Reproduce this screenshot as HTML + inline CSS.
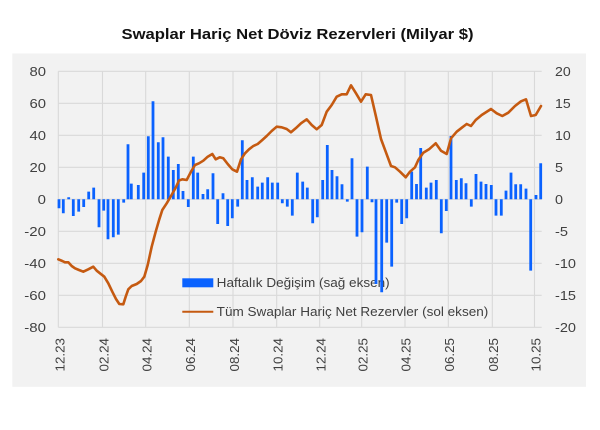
<!DOCTYPE html>
<html>
<head>
<meta charset="utf-8">
<style>
html,body{margin:0;padding:0;background:#ffffff;}
body{width:600px;height:430px;overflow:hidden;}
svg{display:block;}
text{font-family:"Liberation Sans",sans-serif;}
</style>
</head>
<body>
<svg width="600" height="430" viewBox="0 0 600 430" xmlns="http://www.w3.org/2000/svg">
  <rect x="0" y="0" width="600" height="430" fill="#ffffff"/>
  <!-- title -->
  <text x="297.5" y="39" text-anchor="middle" font-size="14.5" font-weight="bold" fill="#111111" textLength="352" lengthAdjust="spacingAndGlyphs">Swaplar Hariç Net Döviz Rezervleri  (Milyar $)</text>
  <!-- chart panel -->
  <rect x="12.3" y="53.5" width="573.7" height="333.3" fill="#f2f2f2"/>

  <!-- horizontal gridlines -->
  <g stroke="#d9d9d9" stroke-width="1.1" fill="none">
    <path d="M58.3 71.3H541.7M58.3 103.3H541.7M58.3 135.3H541.7M58.3 167.3H541.7M58.3 199.3H541.7M58.3 231.3H541.7M58.3 263.3H541.7M58.3 295.3H541.7M58.3 327.3H541.7"/>
    <path d="M58.3 71.3V327.3M102.5 71.3V327.3M145.7 71.3V327.3M189.3 71.3V327.3M233 71.3V327.3M276.7 71.3V327.3M319.7 71.3V327.3M361.7 71.3V327.3M405 71.3V327.3M448.3 71.3V327.3M492.3 71.3V327.3M534.5 71.3V327.3"/>
  </g>

  <!-- left axis labels -->
  <g font-size="12.5" fill="#404040" text-anchor="end">
    <text x="46" y="75.8" textLength="16.5" lengthAdjust="spacingAndGlyphs">80</text>
    <text x="46" y="107.8" textLength="16.5" lengthAdjust="spacingAndGlyphs">60</text>
    <text x="46" y="139.8" textLength="16.5" lengthAdjust="spacingAndGlyphs">40</text>
    <text x="46" y="171.8" textLength="16.5" lengthAdjust="spacingAndGlyphs">20</text>
    <text x="46" y="203.8" textLength="8.3" lengthAdjust="spacingAndGlyphs">0</text>
    <text x="46" y="235.8" textLength="21.7" lengthAdjust="spacingAndGlyphs">-20</text>
    <text x="46" y="267.8" textLength="21.7" lengthAdjust="spacingAndGlyphs">-40</text>
    <text x="46" y="299.8" textLength="21.7" lengthAdjust="spacingAndGlyphs">-60</text>
    <text x="46" y="331.8" textLength="21.7" lengthAdjust="spacingAndGlyphs">-80</text>
  </g>
  <!-- right axis labels -->
  <g font-size="12.5" fill="#404040" text-anchor="start">
    <text x="555" y="75.8" textLength="15.7" lengthAdjust="spacingAndGlyphs">20</text>
    <text x="555" y="107.8" textLength="15.7" lengthAdjust="spacingAndGlyphs">15</text>
    <text x="555" y="139.8" textLength="15.7" lengthAdjust="spacingAndGlyphs">10</text>
    <text x="555" y="171.8" textLength="8" lengthAdjust="spacingAndGlyphs">5</text>
    <text x="555" y="203.8" textLength="8" lengthAdjust="spacingAndGlyphs">0</text>
    <text x="555" y="235.8" textLength="13" lengthAdjust="spacingAndGlyphs">-5</text>
    <text x="555" y="267.8" textLength="21" lengthAdjust="spacingAndGlyphs">-10</text>
    <text x="555" y="299.8" textLength="21" lengthAdjust="spacingAndGlyphs">-15</text>
    <text x="555" y="331.8" textLength="21" lengthAdjust="spacingAndGlyphs">-20</text>
  </g>
  <!-- x axis labels -->
  <g font-size="12.5" fill="#404040" text-anchor="end">
    <text transform="translate(64.3,338) rotate(-90)" textLength="33.5" lengthAdjust="spacingAndGlyphs">12.23</text>
    <text transform="translate(108.3,338) rotate(-90)" textLength="33.5" lengthAdjust="spacingAndGlyphs">02.24</text>
    <text transform="translate(151.5,338) rotate(-90)" textLength="33.5" lengthAdjust="spacingAndGlyphs">04.24</text>
    <text transform="translate(195.1,338) rotate(-90)" textLength="33.5" lengthAdjust="spacingAndGlyphs">06.24</text>
    <text transform="translate(238.8,338) rotate(-90)" textLength="33.5" lengthAdjust="spacingAndGlyphs">08.24</text>
    <text transform="translate(282.5,338) rotate(-90)" textLength="33.5" lengthAdjust="spacingAndGlyphs">10.24</text>
    <text transform="translate(325.5,338) rotate(-90)" textLength="33.5" lengthAdjust="spacingAndGlyphs">12.24</text>
    <text transform="translate(367.5,338) rotate(-90)" textLength="33.5" lengthAdjust="spacingAndGlyphs">02.25</text>
    <text transform="translate(410.5,338) rotate(-90)" textLength="33.5" lengthAdjust="spacingAndGlyphs">04.25</text>
    <text transform="translate(453.8,338) rotate(-90)" textLength="33.5" lengthAdjust="spacingAndGlyphs">06.25</text>
    <text transform="translate(497.8,338) rotate(-90)" textLength="33.5" lengthAdjust="spacingAndGlyphs">08.25</text>
    <text transform="translate(540.3,338) rotate(-90)" textLength="33.5" lengthAdjust="spacingAndGlyphs">10.25</text>
  </g>

  <!-- legend -->
  <rect x="182.3" y="278.3" width="31" height="9" fill="#0a62ff"/>
  <text x="216.7" y="286.8" font-size="12.5" fill="#404040" textLength="173" lengthAdjust="spacingAndGlyphs">Haftalık Değişim (sağ eksen)</text>
  <path d="M182.3 311.7H213.3" stroke="#c55a11" stroke-width="2"/>
  <text x="216.7" y="316.2" font-size="12.5" fill="#404040" textLength="271.6" lengthAdjust="spacingAndGlyphs">Tüm Swaplar Hariç Net Rezervler (sol eksen)</text>

  <!-- bars -->
  <path fill="none" stroke="#0a62ff" stroke-width="2.8" d="
M59 199.3V208.3M63.3 199.3V213.3M68.7 199.3V197.3M73.3 199.3V216M78.7 199.3V211.6M83.7 199.3V207M88.7 199.3V191.6M93.7 199.3V187.6
M99 199.3V227.3M103.7 199.3V210.6M108 199.3V239.3M113.3 199.3V237.3M118.3 199.3V234.6M123.7 199.3V202.6M128 199.3V144.3M131.3 199.3V183.6
M138.3 199.3V185M143.7 199.3V172.6M148.3 199.3V136.3M153 199.3V101.3M158.3 199.3V142.3M163 199.3V137.3M168.3 199.3V156.6M173.3 199.3V170
M178.3 199.3V164M183 199.3V191M188.3 199.3V207M193.3 199.3V156.6M197.7 199.3V172.6M203 199.3V194M207.7 199.3V189.3M213 199.3V173.3
M217.7 199.3V224M223 199.3V193.3M227.7 199.3V226M232.3 199.3V218.3M237.7 199.3V206.6M242.3 199.3V140.3M247 199.3V180M252.3 199.3V177.3
M257.7 199.3V186.6M262.3 199.3V182.6M267.7 199.3V177.3M272.3 199.3V182.6M277.7 199.3V182.6M282.3 199.3V203.3M287.3 199.3V206.6M292.3 199.3V215.6
M297.3 199.3V172.6M302.7 199.3V181.6M307.3 199.3V187.6M312.7 199.3V223.3M317.3 199.3V217.3M322.7 199.3V180M327.3 199.3V145M332 199.3V170
M337 199.3V176.3M342 199.3V184.3M347.3 199.3V201.6M352 199.3V158.3M357 199.3V236.6M362 199.3V232.3M367.3 199.3V166.6M372 199.3V202.3
M376 199.3V284M381.7 199.3V292.3M386.7 199.3V242.6M391.7 199.3V266.6M396.7 199.3V202.6M401.7 199.3V224M406.7 199.3V218.3M411.7 199.3V171.6
M416.5 199.3V184M420.7 199.3V148M426.3 199.3V187.6M431 199.3V182.6M436.3 199.3V180M441.3 199.3V233.3M446.3 199.3V211M451 199.3V136
M456.3 199.3V180M461.3 199.3V178.3M466 199.3V183.3M471.3 199.3V206.6M476 199.3V174M481 199.3V181.6M486 199.3V184M491.3 199.3V185
M496 199.3V215.6M501.3 199.3V215.6M506 199.3V190.6M511 199.3V172.6M515.7 199.3V184.3M520.7 199.3V184.3M526 199.3V188.6M530.7 199.3V270.6
M536 199.3V195M540.7 199.3V163.3"/>

  <!-- line -->
  <polyline fill="none" stroke="#c55a11" stroke-width="2.6" stroke-linejoin="round" stroke-linecap="round" points="
58.3,259.3 62.3,261 65,262.3 68.3,262.3 71.7,266 75,268.3 79,270 83.3,271.7 88.3,269.3 93.3,266.7 96.7,270.7 100,273.3
104.3,276.7 108.3,283.3 112.3,291.7 116,299 119.3,304 123.3,304.3 125.7,296.7 128.3,289.3 131.7,286 136.7,284 141,281 144.3,276.7
147.7,265 151.7,246.7 155.7,231.7 159.3,219.3 162.3,210 166.7,203.3 171,196 175.7,187.7 179,180.5 182.3,179.3 186.7,180 191,171.7
195,165 199,163.3 203.3,160.7 207.7,156.7 212.3,154 215.7,159.3 219.7,157.3 223.3,158.3 227.7,164 232.3,169.3 237,171.7 241,159.3
245,153.3 249,149.3 253.3,146 257.7,144 262.3,140 266.7,136 271.7,131 276.7,126.7 281.7,127.3 286.7,129 291,132.3 295.7,128.3
301,123.3 306.7,119.3 311.7,125 316.7,129.3 321.7,125 326.7,111.7 331.7,105 336.7,96.7 341.7,94.3 346.7,94.3 351,85.3 356,93.3
361,101.7 365.7,94.3 371,95 376,116.7 381,139 385.7,151.7 391,166 395,167.3 400,171.7 405.7,177.3 410,171.7 415,167.3
418.3,160 423.3,152.7 429,149.3 435.7,143.3 441,150.7 446.7,154 451,138.3 456.7,131.7 462.3,127.3 466.7,124 471,126 475.7,120
481.7,115 491,109 496.7,113.3 502.3,116 508.3,112.7 515,106 521,101.3 526,99.3 531,116 535.7,115 541,106"/>
</svg>
</body>
</html>
